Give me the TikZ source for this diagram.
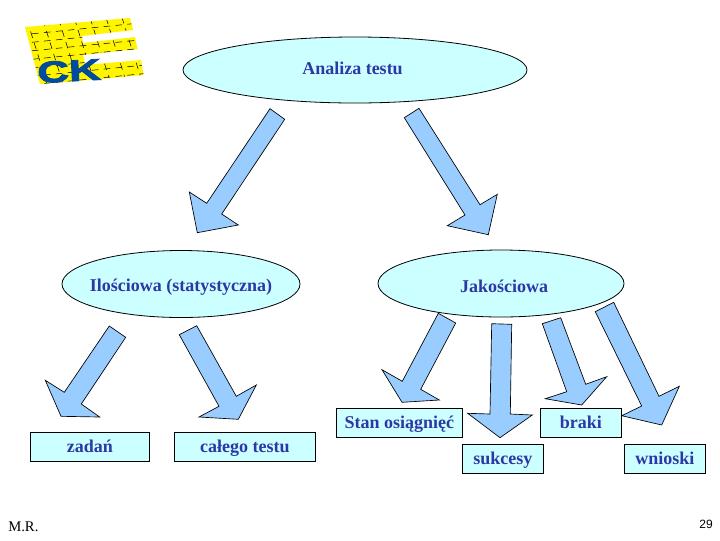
\documentclass[tikz,border=0pt]{standalone}
\usepackage{fontspec}
\setmainfont{Liberation Serif}
\newfontfamily\labfont[BoldFont={Liberation Serif Bold}]{Liberation Serif}
\newfontfamily\logofont[FakeBold=2.5]{Liberation Sans Bold}
\newfontfamily\numfont{Liberation Sans}
\definecolor{paleaqua}{RGB}{204,255,255}
\definecolor{arrowblue}{RGB}{153,204,255}
\definecolor{labelblue}{RGB}{45,55,165}
\definecolor{logoyellow}{RGB}{255,245,0}
\definecolor{logoblue}{RGB}{0,75,155}
\tikzset{
  x=0.75pt,y=-0.75pt,
  oval/.style={draw=black,fill=paleaqua,line width=0.6pt},
  labelbox/.style={draw=black,fill=paleaqua,line width=0.6pt,minimum height=21.75pt,inner sep=0pt,anchor=center,text=labelblue,text height=12pt,text depth=3pt,font=\labfont\bfseries\fontsize{13.5pt}{15pt}\selectfont},
  ovaltext/.style={text=labelblue,text height=12pt,text depth=3pt,font=\labfont\bfseries\fontsize{13.5pt}{15pt}\selectfont,inner sep=0pt},
  bigarrow/.style={draw=black,fill=arrowblue,line width=0.5pt,line join=miter},
  foot/.style={text=black,inner sep=0pt}
}
\begin{document}
\begin{tikzpicture}
\useasboundingbox (0,0) rectangle (720,540);
\fill[white] (0,0) rectangle (720,540);
% logo
\begin{scope}
\clip (25,27) -- (130,18) -- (133,30) -- (82,36) -- (83,43) -- (135,37) -- (137.5,49) -- (83,55) -- (85,65) -- (141,60) -- (143.5,75) -- (100,79) -- (40,84) -- cycle;
\fill[logoyellow] (20,15) rectangle (150,90);
\foreach \i in {0,...,8}{
  \draw[black,line width=0.4pt,dash pattern=on 5pt off 4pt] ({27+\i*15.8},{20+\i*(-0.5)}) -- ({49+\i*15.8},{90+\i*(-0.5)});
}
\foreach \j in {0,...,6}{
  \draw[black,line width=0.4pt,dash pattern=on 5pt off 4pt] (20,{35+\j*8.5}) -- (150,{22+\j*8.5});
}
\end{scope}
\node[inner sep=0pt,text=logoblue] (logotext) at (69,71) {\rotatebox{3}{\scalebox{2.2}[1.5]{\logofont\fontsize{15pt}{15pt}\selectfont CK}}};
% ovals
\path[oval] (355,70) ellipse [x radius=172,y radius=33];
\path[oval] (181,284) ellipse [x radius=119,y radius=33.5];
\path[oval] (501,283.5) ellipse [x radius=123,y radius=33.5];
\node[ovaltext] (top) at (352.5,68) {Analiza testu};
\node[ovaltext] (left) at (181,285) {Ilościowa (statystyczna)};
\node[ovaltext] (right) at (504,286) {Jakościowa};
% arrows
\path[bigarrow] (270,108.7) -- (284.7,119.3) -- (221.7,214) -- (238.3,225) -- (197.3,232.7) -- (189.3,192) -- (206.7,203.3) -- cycle;
\path[bigarrow] (404.3,117.7) -- (419,108.3) -- (480,204.7) -- (497.3,194.3) -- (488.3,234.7) -- (447.3,225.7) -- (465,215) -- cycle;
\path[bigarrow] (109.3,326) -- (125.7,337.3) -- (81.3,404) -- (99.7,417) -- (61,416.3) -- (45.3,380.3) -- (64.3,392.3) -- cycle;
\path[bigarrow] (179.3,334.7) -- (196.7,325.7) -- (236.3,396.3) -- (256.3,385) -- (238.3,419.3) -- (199,417) -- (219,406.3) -- cycle;
\path[bigarrow] (438.3,313.3) -- (455.7,323) -- (420.7,389.3) -- (439.3,400) -- (402,402.3) -- (382,369.7) -- (402.3,381.3) -- cycle;
\path[bigarrow] (491.7,323.7) -- (511.7,324.3) -- (510.3,414) -- (532.3,415) -- (500,437.7) -- (467.7,413.3) -- (490,414) -- cycle;
\path[bigarrow] (542.3,323.7) -- (560.7,317.7) -- (585.7,384.3) -- (606.7,376.7) -- (581.7,405) -- (545.3,398.7) -- (566.7,391.7) -- cycle;
\path[bigarrow] (595.3,311.7) -- (613.7,302.3) -- (659,396.3) -- (679.3,386.3) -- (661.7,425) -- (621.7,415.7) -- (641.7,406) -- cycle;
% boxes
\node[labelbox,minimum width=89.25pt] (zadan) at (89.8,446.8) {zadań};
\node[labelbox,minimum width=105.75pt] (calego) at (244.8,446.8) {całego testu};
\node[labelbox,minimum width=94.5pt] (stan) at (399.3,422.8) {Stan osiągnięć};
\node[labelbox,minimum width=60.75pt] (braki) at (580.8,422.8) {braki};
\node[labelbox,minimum width=60.75pt] (sukcesy) at (502.8,458.8) {sukcesy};
\node[labelbox,minimum width=60.75pt] (wnioski) at (664.8,458.8) {wnioski};
% footer
\node[foot,anchor=west,font=\fontsize{11pt}{12pt}\selectfont] (mr) at (8,527) {M.R.};
\node[foot,anchor=east,font=\numfont\fontsize{9pt}{11pt}\selectfont] (num) at (713,524.5) {29};
\end{tikzpicture}
\end{document}
